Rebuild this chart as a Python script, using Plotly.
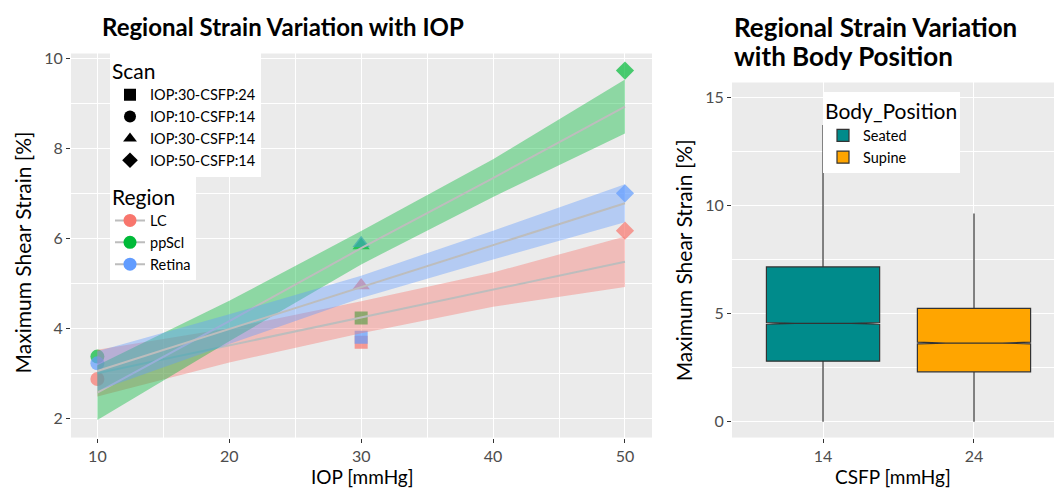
import plotly.graph_objects as go

W, H = 1054, 488

# ---------------- data: left panel ----------------
scans = ["IOP:30-CSFP:24", "IOP:10-CSFP:14", "IOP:30-CSFP:14", "IOP:50-CSFP:14"]
scan_iop = [30, 10, 30, 50]
regions = ["LC", "ppScl", "Retina"]
lc_strain = [3.69, 2.87, 4.95, 6.17]
ppscl_strain = [4.23, 3.37, 5.84, 9.73]
retina_strain = [3.80, 3.22, 5.89, 7.00]

fit_iop = [10, 20, 30, 40, 50]
lc_fit = [3.00, 3.62, 4.24, 4.86, 5.48]
lc_lo = [2.48, 3.24, 3.89, 4.48, 4.92]
lc_hi = [3.52, 4.00, 4.60, 5.24, 6.04]
ppscl_fit = [2.57, 4.16, 5.78, 7.34, 8.93]
ppscl_lo = [1.96, 3.71, 5.42, 6.92, 8.33]
ppscl_hi = [3.18, 4.61, 6.16, 7.76, 9.53]
retina_fit = [3.05, 3.98, 4.92, 5.85, 6.78]
retina_lo = [2.61, 3.65, 4.67, 5.53, 6.36]
retina_hi = [3.49, 4.31, 5.17, 6.17, 7.20]

# ---------------- data: right panel ----------------
csfp_cats = ["14", "24"]
body_positions = ["Seated", "Supine"]
q1 = [2.80, 2.31]
median = [4.55, 3.64]
q3 = [7.16, 5.24]
lower_fence = [0.0, 0.0]
upper_fence = [13.73, 9.63]
notch_span = [0.04, 0.04]

# ---------------- styles ----------------
FONT = "Lato"
reg_colors = {"LC": "#F8766D", "ppScl": "#00BA38", "Retina": "#619CFF"}
reg_fill = {"LC": "rgba(248,118,109,0.4)", "ppScl": "rgba(0,186,56,0.4)", "Retina": "rgba(97,156,255,0.4)"}
scan_symbols = {"IOP:30-CSFP:24": "square", "IOP:10-CSFP:14": "circle",
                "IOP:30-CSFP:14": "triangle-up", "IOP:50-CSFP:14": "diamond"}
box_colors = {"Seated": "#008B8B", "Supine": "#FFA500"}
LINE_GREY = "#BDBDBD"

strain = {"LC": lc_strain, "ppScl": ppscl_strain, "Retina": retina_strain}
fits = {"LC": (lc_fit, lc_lo, lc_hi), "ppScl": (ppscl_fit, ppscl_lo, ppscl_hi),
        "Retina": (retina_fit, retina_lo, retina_hi)}

fig = go.Figure()

# points (drawn first; ribbons overlay them like ggplot)
for r in regions:
    fig.add_trace(go.Scatter(
        x=scan_iop, y=strain[r], mode="markers", showlegend=False,
        marker=dict(color=reg_colors[r], size=[13, 14, 15, 14],
                    symbol=[scan_symbols[s] for s in scans], line=dict(width=0)),
        xaxis="x", yaxis="y"))

# ribbons and fitted lines
for r in regions:
    f, lo, hi = fits[r]
    fig.add_trace(go.Scatter(
        x=fit_iop + fit_iop[::-1], y=hi + lo[::-1], fill="toself",
        fillcolor=reg_fill[r], line=dict(width=0), mode="lines",
        showlegend=False, hoverinfo="skip", xaxis="x", yaxis="y"))
    fig.add_trace(go.Scatter(
        x=fit_iop, y=f, mode="lines", line=dict(color=LINE_GREY, width=2),
        showlegend=False, xaxis="x", yaxis="y"))

# legend entries: Scan
for s in scans:
    fig.add_trace(go.Scatter(
        x=[None], y=[None], mode="markers", name=s, legend="legend",
        marker=dict(color="black", symbol=scan_symbols[s], size=12),
        xaxis="x", yaxis="y"))
# legend entries: Region
for r in regions:
    fig.add_trace(go.Scatter(
        x=[None], y=[None], mode="lines+markers", name=r, legend="legend2",
        marker=dict(color=reg_colors[r], symbol="circle", size=13),
        line=dict(color=LINE_GREY, width=2),
        xaxis="x", yaxis="y"))

# box plots
for i, bp in enumerate(body_positions):
    fig.add_trace(go.Box(
        x=[csfp_cats[i]], q1=[q1[i]], median=[median[i]], q3=[q3[i]],
        lowerfence=[lower_fence[i]], upperfence=[upper_fence[i]],
        notchspan=[notch_span[i]], notched=True, notchwidth=0.25,
        name=bp, legend="legend3", fillcolor=box_colors[bp],
        line=dict(color="#333333", width=1.2), whiskerwidth=0, width=0.75,
        boxpoints=False, xaxis="x2", yaxis="y2"))

axis_common = dict(showline=False, zeroline=False, ticks="outside", ticklen=4,
                   tickcolor="#333333", tickwidth=1, gridcolor="white", gridwidth=1.2,
                   tickfont=dict(family=FONT, size=16, color="#4D4D4D"))

leg_common = dict(xanchor="left", yanchor="top", bgcolor="white",
                  font=dict(family=FONT, size=14.5), itemwidth=30, tracegroupgap=0)

fig.update_layout(
    width=W, height=H, autosize=False,
    margin=dict(l=0, r=0, t=0, b=0),
    paper_bgcolor="white", plot_bgcolor="#EBEBEB",
    font=dict(family=FONT, color="black"),
    boxmode="overlay",
    xaxis=dict(domain=[71 / W, 652 / W], range=[8, 52.05], tickvals=[10, 20, 30, 40, 50],
               minor=dict(dtick=5, tick0=5, showgrid=True, gridcolor="white", gridwidth=0.6),
               anchor="y", **axis_common),
    yaxis=dict(domain=[1 - 437 / H, 1 - 49 / H], range=[1.57, 10.11], tickvals=[2, 4, 6, 8, 10],
               minor=dict(dtick=1, tick0=1, showgrid=True, gridcolor="white", gridwidth=0.6),
               anchor="x", **axis_common),
    xaxis2=dict(domain=[732 / W, 1.0], type="category", categoryorder="array",
                categoryarray=csfp_cats, range=[-0.603, 1.53], anchor="y2", **axis_common),
    yaxis2=dict(domain=[1 - 437 / H, 1 - 78.3 / H], range=[-0.73, 15.69], tickvals=[0, 5, 10, 15],
                minor=dict(dtick=2.5, tick0=2.5, showgrid=True, gridcolor="white", gridwidth=0.6),
                anchor="x2", **axis_common),
    legend=dict(x=110 / W, y=1 - 47 / H,
                title=dict(text="Scan", font=dict(family=FONT, size=21)), **leg_common),
    legend2=dict(x=110 / W, y=1 - 174 / H,
                 title=dict(text="Region", font=dict(family=FONT, size=21)), **leg_common),
    legend3=dict(x=823 / W, y=1 - 88 / H,
                 title=dict(text="Body_Position", font=dict(family=FONT, size=21)), **leg_common),
    annotations=[
        dict(text="<b>Regional Strain Variation with IOP</b>", x=100 / W, y=1 - 22 / H,
             xref="paper", yref="paper", xanchor="left", yanchor="middle", showarrow=False,
             font=dict(family=FONT, size=24, color="black")),
        dict(text="<b>Regional Strain Variation</b>", x=732 / W, y=1 - 22 / H,
             xref="paper", yref="paper", xanchor="left", yanchor="middle", showarrow=False,
             font=dict(family=FONT, size=26, color="black")),
        dict(text="<b>with Body Position</b>", x=732 / W, y=1 - 52 / H,
             xref="paper", yref="paper", xanchor="left", yanchor="middle", showarrow=False,
             font=dict(family=FONT, size=26, color="black")),
        dict(text="Maximum Shear Strain [%]", x=22 / W, y=1 - 250 / H, textangle=-90,
             xref="paper", yref="paper", xanchor="center", yanchor="middle", showarrow=False,
             font=dict(family=FONT, size=21, color="black")),
        dict(text="IOP [mmHg]", x=362 / W, y=1 - 476 / H,
             xref="paper", yref="paper", xanchor="center", yanchor="middle", showarrow=False,
             font=dict(family=FONT, size=19, color="black")),
        dict(text="Maximum Shear Strain [%]", x=683 / W, y=1 - 258 / H, textangle=-90,
             xref="paper", yref="paper", xanchor="center", yanchor="middle", showarrow=False,
             font=dict(family=FONT, size=21, color="black")),
        dict(text="CSFP [mmHg]", x=893 / W, y=1 - 476 / H,
             xref="paper", yref="paper", xanchor="center", yanchor="middle", showarrow=False,
             font=dict(family=FONT, size=19, color="black")),
    ],
)

fig.write_html("out.html", config={"displayModeBar": False},
               post_script="document.body.style.margin='0px';")
